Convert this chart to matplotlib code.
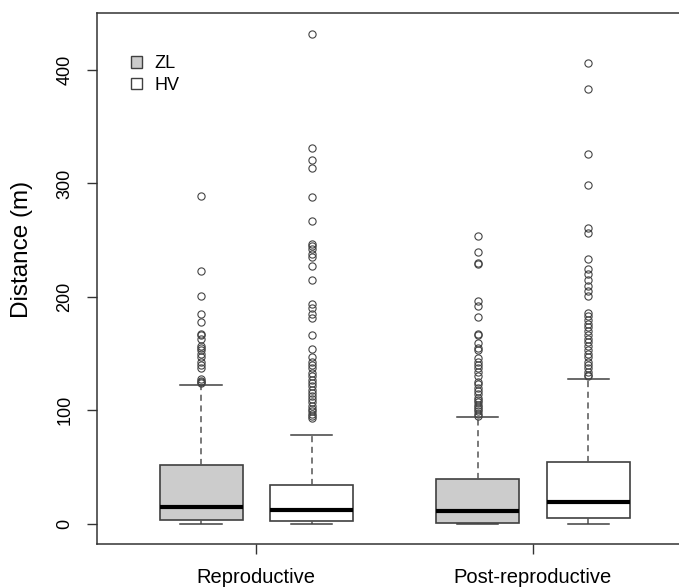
import matplotlib
matplotlib.use("Agg")
import matplotlib.pyplot as plt
from matplotlib.patches import Patch

plt.rcParams['font.family'] = ['Liberation Sans', 'DejaVu Sans']

# group labels and box positions (R-style at = 1, 2, 3.5, 4.5)
categories = ['Reproductive', 'Post-reproductive']
series = ['ZL', 'HV']
colors = {'ZL': '#cccccc', 'HV': '#ffffff'}

# box statistics: (whislo, q1, med, q3, whishi)
zl_repro = [0, 3.5, 15, 52, 122]
hv_repro = [0, 2.6, 12, 34, 78]
zl_post = [0, 0.6, 11, 39, 94]
hv_post = [0, 4.7, 19, 54, 128]

# outliers (m)
zl_repro_out = [289, 223, 201, 185, 178, 167, 166, 163, 157, 155, 153, 150,
                147, 143, 140, 137, 128, 126, 125, 124]
hv_repro_out = [432, 331, 321, 314, 288, 267, 247, 245, 242, 238, 235, 227,
                215, 194, 190, 185, 181, 166, 154, 147, 143, 140, 137, 133,
                130, 127, 124, 121, 118, 115, 113, 110, 107, 104, 101, 99,
                97, 95, 93]
zl_post_out = [254, 240, 230, 229, 196, 192, 182, 167, 166, 159, 155, 153,
               146, 143, 140, 137, 134, 130, 125, 123, 120, 117, 114, 111,
               109, 107, 105, 103, 101, 99, 97, 95]
hv_post_out = [406, 383, 326, 299, 261, 256, 233, 225, 220, 215, 210, 205,
               201, 186, 183, 180, 176, 173, 170, 166, 163, 160, 157, 153,
               150, 147, 143, 140, 137, 134, 131, 130]

boxes = [zl_repro, hv_repro, zl_post, hv_post]
outs = [zl_repro_out, hv_repro_out, zl_post_out, hv_post_out]
box_series = ['ZL', 'HV', 'ZL', 'HV']
positions = [1, 2, 3.5, 4.5]
cat_ticks = [1.5, 4.0]

stats = []
for b, o in zip(boxes, outs):
    stats.append(dict(whislo=b[0], q1=b[1], med=b[2], q3=b[3], whishi=b[4],
                      fliers=o))

fig = plt.figure(figsize=(6.79, 5.88), dpi=100)
ax = fig.add_axes([97 / 679, 44 / 588, 1 - 97 / 679, (544 - 13) / 588])

edge = '#404040'
bp = ax.bxp(stats, positions=positions, widths=0.75, patch_artist=True,
            showfliers=True,
            boxprops=dict(edgecolor=edge, linewidth=1.2),
            medianprops=dict(color='black', linewidth=3, solid_capstyle='butt'),
            whiskerprops=dict(color='#555555', linewidth=1.1, linestyle=(0, (4, 3))),
            capprops=dict(color=edge, linewidth=1.1),
            flierprops=dict(marker='o', markersize=5.2, markerfacecolor='none',
                            markeredgecolor='#444444', markeredgewidth=0.8))
for patch, s in zip(bp['boxes'], box_series):
    patch.set_facecolor(colors[s])
# R style staples: half the box width
for cap in bp['caps']:
    x0, x1 = cap.get_xdata()
    c = (x0 + x1) / 2
    cap.set_xdata([c - 0.1875, c + 0.1875])

ax.set_xlim(0.06, 5.32)
ax.set_ylim(-17.9, 450.3)
ax.set_xticks(cat_ticks)
ax.set_xticklabels(categories, fontsize=14.5)
ax.set_yticks([0, 100, 200, 300, 400])
ax.set_yticklabels(['0', '100', '200', '300', '400'], rotation=90,
                   va='center', fontsize=13)
ax.tick_params(axis='both', direction='out', length=7, width=1, color='#333333')
ax.tick_params(axis='x', pad=10)
ax.tick_params(axis='y', pad=10)
ax.spines['right'].set_visible(False)
for sp in ['left', 'top', 'bottom']:
    ax.spines[sp].set_color('#333333')
    ax.spines[sp].set_linewidth(1.1)
ax.set_ylabel('Distance (m)', fontsize=17.5)
ax.yaxis.set_label_coords(-0.11, 0.554)

handles = [Patch(facecolor=colors[s], edgecolor=edge, label=s) for s in series]
ax.legend(handles=handles, loc='upper left', bbox_to_anchor=(0.058, 0.92),
          frameon=False, fontsize=13, handlelength=0.62, handleheight=0.62,
          handletextpad=0.7, labelspacing=0.25, borderpad=0, borderaxespad=0)

fig.savefig('out.png', dpi=100)
